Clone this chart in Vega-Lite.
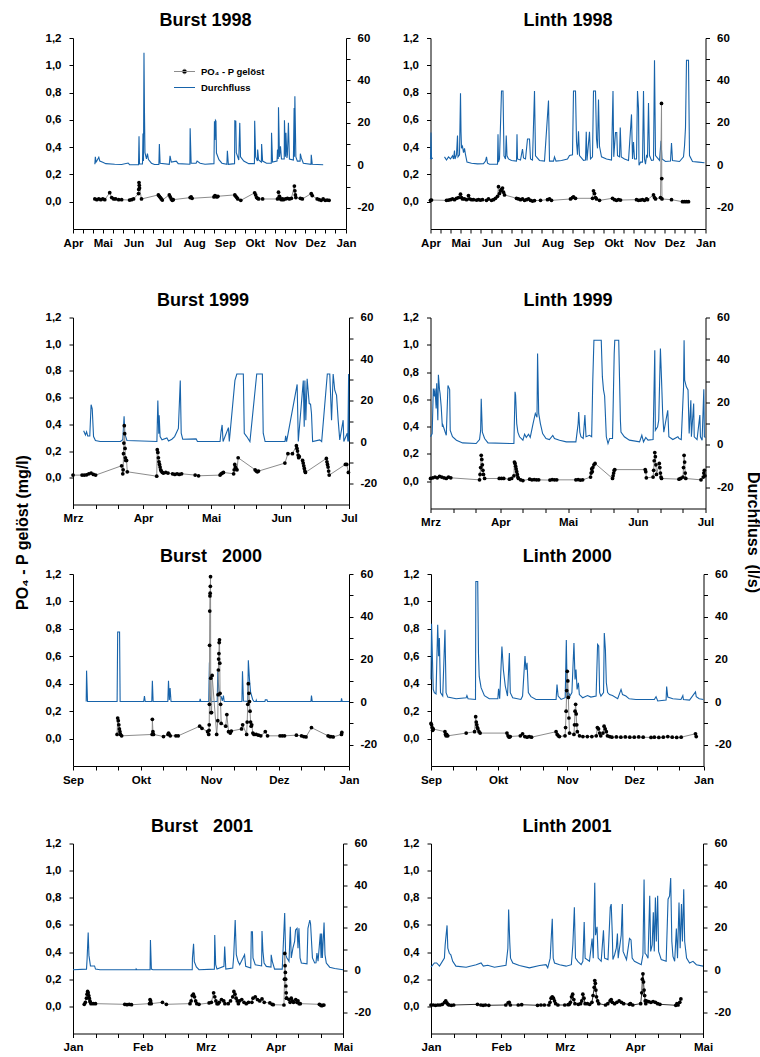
{
"$schema":"https://vega.github.io/schema/vega-lite/v6.json",
"padding":{"left":15,"top":12,"right":0,"bottom":0},
"config":{"font":"Liberation Sans","view":{"stroke":null},
"title":{"fontSize":18,"fontWeight":"bold","color":"#000","offset":2},
"axis":{"grid":false,"labelFontSize":11.5,"labelFontWeight":"bold","labelColor":"#000","domainColor":"#000","tickColor":"#000","tickSize":4,"domainWidth":1,"tickWidth":1}},
"datasets":{
"b98q":[{"d":"1998-04-23","q":0.5},{"d":"1998-04-23T12:00Z","q":4},{"d":"1998-04-24T06:00Z","q":1.5},{"d":"1998-04-25","q":2},{"d":"1998-04-27","q":3.8},{"d":"1998-04-28","q":2},{"d":"1998-05-01","q":1.4},{"d":"1998-05-04","q":0.8},{"d":"1998-05-13","q":0.5},{"d":"1998-05-20","q":0.4},{"d":"1998-05-26T12:00Z","q":1.1},{"d":"1998-05-28","q":0.3},{"d":"1998-06-06","q":0.3},{"d":"1998-06-06T12:00Z","q":13.7},{"d":"1998-06-07","q":0.6},{"d":"1998-06-10","q":0.6},{"d":"1998-06-10T12:00Z","q":15},{"d":"1998-06-11","q":2},{"d":"1998-06-11T12:00Z","q":53},{"d":"1998-06-12","q":25},{"d":"1998-06-12T12:00Z","q":6},{"d":"1998-06-14","q":3},{"d":"1998-06-15","q":5.5},{"d":"1998-06-16","q":2.7},{"d":"1998-06-19","q":1},{"d":"1998-06-22","q":0.4},{"d":"1998-06-26T12:00Z","q":0.4},{"d":"1998-06-27","q":10},{"d":"1998-06-27T18:00Z","q":1},{"d":"1998-07-07","q":0.5},{"d":"1998-07-07T18:00Z","q":4.5},{"d":"1998-07-09","q":1.5},{"d":"1998-07-14","q":2},{"d":"1998-07-16","q":0.8},{"d":"1998-07-27T18:00Z","q":0.5},{"d":"1998-07-28","q":17.5},{"d":"1998-07-29","q":1},{"d":"1998-08-03","q":1},{"d":"1998-08-04","q":2},{"d":"1998-08-07","q":1},{"d":"1998-08-12","q":0.5},{"d":"1998-08-21","q":0.8},{"d":"1998-08-21T12:00Z","q":20.8},{"d":"1998-08-22","q":12},{"d":"1998-08-22T12:00Z","q":21.2},{"d":"1998-08-23","q":20.8},{"d":"1998-08-23T12:00Z","q":5.8},{"d":"1998-08-26","q":2.7},{"d":"1998-08-29","q":1},{"d":"1998-09-03","q":0.5},{"d":"1998-09-03T12:00Z","q":6.9},{"d":"1998-09-04T12:00Z","q":0.5},{"d":"1998-09-10T18:00Z","q":0.8},{"d":"1998-09-11","q":21},{"d":"1998-09-12","q":20.8},{"d":"1998-09-12T12:00Z","q":6},{"d":"1998-09-15","q":2.5},{"d":"1998-09-16","q":20},{"d":"1998-09-16T18:00Z","q":4},{"d":"1998-09-20","q":2},{"d":"1998-09-25","q":0.8},{"d":"1998-09-30T18:00Z","q":0.8},{"d":"1998-10-01","q":21},{"d":"1998-10-02","q":4},{"d":"1998-10-03T18:00Z","q":2},{"d":"1998-10-04","q":7.4},{"d":"1998-10-05","q":2.5},{"d":"1998-10-07T18:00Z","q":1.5},{"d":"1998-10-08","q":10},{"d":"1998-10-09","q":2},{"d":"1998-10-13","q":1},{"d":"1998-10-17T18:00Z","q":1},{"d":"1998-10-18","q":15.3},{"d":"1998-10-19","q":1.5},{"d":"1998-10-23T12:00Z","q":2},{"d":"1998-10-24","q":7.4},{"d":"1998-10-24T18:00Z","q":3},{"d":"1998-10-25","q":27.4},{"d":"1998-10-26","q":4},{"d":"1998-10-27","q":9},{"d":"1998-10-28","q":3},{"d":"1998-10-30T18:00Z","q":3},{"d":"1998-10-31","q":21.2},{"d":"1998-11-01","q":4},{"d":"1998-11-01T12:00Z","q":15.3},{"d":"1998-11-02T12:00Z","q":3.5},{"d":"1998-11-03","q":5},{"d":"1998-11-04","q":20},{"d":"1998-11-05","q":3},{"d":"1998-11-09","q":2.5},{"d":"1998-11-09T18:00Z","q":27},{"d":"1998-11-10","q":4},{"d":"1998-11-10T12:00Z","q":32.5},{"d":"1998-11-11T12:00Z","q":4},{"d":"1998-11-13","q":2},{"d":"1998-11-15T18:00Z","q":2},{"d":"1998-11-16","q":5.5},{"d":"1998-11-17","q":3.5},{"d":"1998-11-19","q":1},{"d":"1998-11-26T18:00Z","q":0.5},{"d":"1998-11-27","q":5},{"d":"1998-11-28","q":0.5},{"d":"1998-12-09","q":0.3}],
"b98p":[{"d":"1998-04-23","p":0.02},{"d":"1998-04-25","p":0.015},{"d":"1998-04-27","p":0.02},{"d":"1998-04-29","p":0.015},{"d":"1998-05-01","p":0.02},{"d":"1998-05-03","p":0.015},{"d":"1998-05-08","p":0.066},{"d":"1998-05-10","p":0.03},{"d":"1998-05-12","p":0.02},{"d":"1998-05-14","p":0.02},{"d":"1998-05-17","p":0.015},{"d":"1998-05-20","p":0.015},{"d":"1998-05-28","p":0.012},{"d":"1998-05-30","p":0.015},{"d":"1998-06-01","p":0.02},{"d":"1998-06-06","p":0.06},{"d":"1998-06-06T06:00Z","p":0.09},{"d":"1998-06-06T12:00Z","p":0.14},{"d":"1998-06-06T18:00Z","p":0.12},{"d":"1998-06-07","p":0.1},{"d":"1998-06-09","p":0.02},{"d":"1998-06-26","p":0.05},{"d":"1998-06-27","p":0.04},{"d":"1998-06-28","p":0.03},{"d":"1998-06-29","p":0.02},{"d":"1998-06-30","p":0.012},{"d":"1998-07-07","p":0.05},{"d":"1998-07-08","p":0.035},{"d":"1998-07-09","p":0.02},{"d":"1998-07-10","p":0.01},{"d":"1998-07-11","p":0.015},{"d":"1998-07-28","p":0.03},{"d":"1998-07-29","p":0.035},{"d":"1998-07-30","p":0.025},{"d":"1998-08-21","p":0.035},{"d":"1998-08-22","p":0.045},{"d":"1998-08-23","p":0.04},{"d":"1998-08-24","p":0.035},{"d":"1998-08-25","p":0.04},{"d":"1998-09-11","p":0.05},{"d":"1998-09-12","p":0.04},{"d":"1998-09-13","p":0.03},{"d":"1998-09-14","p":0.02},{"d":"1998-09-17","p":0.01},{"d":"1998-10-01","p":0.065},{"d":"1998-10-02","p":0.05},{"d":"1998-10-03","p":0.03},{"d":"1998-10-04","p":0.025},{"d":"1998-10-05","p":0.02},{"d":"1998-10-09","p":0.02},{"d":"1998-10-24","p":0.02},{"d":"1998-10-25","p":0.07},{"d":"1998-10-26","p":0.04},{"d":"1998-10-27","p":0.02},{"d":"1998-10-28","p":0.015},{"d":"1998-10-29","p":0.02},{"d":"1998-10-30","p":0.015},{"d":"1998-11-01","p":0.02},{"d":"1998-11-03","p":0.025},{"d":"1998-11-05","p":0.02},{"d":"1998-11-07","p":0.025},{"d":"1998-11-10","p":0.115},{"d":"1998-11-10T12:00Z","p":0.08},{"d":"1998-11-11","p":0.05},{"d":"1998-11-11T12:00Z","p":0.03},{"d":"1998-11-16","p":0.025},{"d":"1998-11-18","p":0.02},{"d":"1998-11-27","p":0.06},{"d":"1998-11-28","p":0.045},{"d":"1998-12-03","p":0.02},{"d":"1998-12-05","p":0.015},{"d":"1998-12-07","p":0.01},{"d":"1998-12-09","p":0.02},{"d":"1998-12-11","p":0.01},{"d":"1998-12-13","p":0.012},{"d":"1998-12-15","p":0.01}],
"l98q":[{"d":"1998-04-01","q":3},{"d":"1998-04-01T12:00Z","q":15.5},{"d":"1998-04-02","q":3},{"d":"1998-04-03T08:00Z","q":3.5},{"d":"1998-04-04","q":null},{"d":"1998-04-15","q":4},{"d":"1998-04-17","q":2.5},{"d":"1998-04-19","q":4},{"d":"1998-04-21","q":3},{"d":"1998-04-23","q":4.5},{"d":"1998-04-24","q":3},{"d":"1998-04-25","q":7},{"d":"1998-04-25T12:00Z","q":3},{"d":"1998-04-27","q":5},{"d":"1998-04-28","q":14},{"d":"1998-04-28T12:00Z","q":4},{"d":"1998-04-30","q":5},{"d":"1998-05-01","q":34},{"d":"1998-05-01T12:00Z","q":16},{"d":"1998-05-02","q":8},{"d":"1998-05-03","q":9},{"d":"1998-05-04","q":6},{"d":"1998-05-05","q":8},{"d":"1998-05-06","q":5},{"d":"1998-05-07T12:00Z","q":1.5},{"d":"1998-05-12","q":1},{"d":"1998-05-18","q":0.7},{"d":"1998-05-24","q":0.8},{"d":"1998-05-26","q":2},{"d":"1998-05-27","q":4},{"d":"1998-05-28","q":1},{"d":"1998-05-30","q":0.5},{"d":"1998-06-07","q":0.5},{"d":"1998-06-07T12:00Z","q":14.7},{"d":"1998-06-08","q":1.5},{"d":"1998-06-09","q":3},{"d":"1998-06-11","q":35},{"d":"1998-06-12T12:00Z","q":35},{"d":"1998-06-13T12:00Z","q":4.5},{"d":"1998-06-15","q":3},{"d":"1998-06-15T18:00Z","q":14},{"d":"1998-06-16T12:00Z","q":4.5},{"d":"1998-06-18","q":3},{"d":"1998-06-21","q":2.3},{"d":"1998-06-26","q":2},{"d":"1998-06-26T12:00Z","q":14.7},{"d":"1998-06-27","q":3},{"d":"1998-06-30","q":2.5},{"d":"1998-07-02","q":7.7},{"d":"1998-07-03","q":3.5},{"d":"1998-07-05","q":3},{"d":"1998-07-07","q":12.4},{"d":"1998-07-09","q":12.4},{"d":"1998-07-10","q":3},{"d":"1998-07-12","q":2.5},{"d":"1998-07-14","q":35},{"d":"1998-07-15","q":4.5},{"d":"1998-07-19","q":2.3},{"d":"1998-07-24","q":2},{"d":"1998-07-28","q":30.5},{"d":"1998-07-29","q":2},{"d":"1998-08-02","q":2},{"d":"1998-08-03","q":4},{"d":"1998-08-04T12:00Z","q":2},{"d":"1998-08-10","q":2.3},{"d":"1998-08-16","q":3},{"d":"1998-08-18","q":4.6},{"d":"1998-08-21","q":5},{"d":"1998-08-22","q":35},{"d":"1998-08-24","q":35},{"d":"1998-08-25","q":11},{"d":"1998-08-26","q":5},{"d":"1998-08-27","q":16},{"d":"1998-08-28","q":4.6},{"d":"1998-09-01","q":2.3},{"d":"1998-09-03","q":2.5},{"d":"1998-09-03T18:00Z","q":15.8},{"d":"1998-09-04T12:00Z","q":2.3},{"d":"1998-09-07","q":15.8},{"d":"1998-09-08","q":3},{"d":"1998-09-10","q":4},{"d":"1998-09-11","q":35},{"d":"1998-09-13","q":35},{"d":"1998-09-14","q":12.4},{"d":"1998-09-15","q":8},{"d":"1998-09-16","q":31},{"d":"1998-09-17","q":9},{"d":"1998-09-19","q":4},{"d":"1998-09-24","q":3},{"d":"1998-09-29","q":2.5},{"d":"1998-09-30T12:00Z","q":35},{"d":"1998-10-01T06:00Z","q":4},{"d":"1998-10-03","q":15.5},{"d":"1998-10-04T06:00Z","q":15.5},{"d":"1998-10-05","q":4.5},{"d":"1998-10-07","q":4},{"d":"1998-10-07T18:00Z","q":17.8},{"d":"1998-10-08T18:00Z","q":4},{"d":"1998-10-12","q":3},{"d":"1998-10-16","q":2.3},{"d":"1998-10-19","q":24},{"d":"1998-10-20","q":3},{"d":"1998-10-21","q":11},{"d":"1998-10-22","q":3},{"d":"1998-10-24","q":3},{"d":"1998-10-25","q":35},{"d":"1998-10-26","q":27},{"d":"1998-10-26T12:00Z","q":0},{"d":"1998-10-28","q":1.5},{"d":"1998-10-30","q":1.5},{"d":"1998-10-31","q":35},{"d":"1998-11-01","q":3},{"d":"1998-11-02","q":0.5},{"d":"1998-11-03","q":4.6},{"d":"1998-11-04","q":4},{"d":"1998-11-05","q":29.4},{"d":"1998-11-06","q":4.6},{"d":"1998-11-08","q":2.3},{"d":"1998-11-10","q":2.5},{"d":"1998-11-11","q":49.5},{"d":"1998-11-12","q":4.6},{"d":"1998-11-16","q":2.3},{"d":"1998-11-17T12:00Z","q":11.6},{"d":"1998-11-18T12:00Z","q":3},{"d":"1998-11-22","q":1.8},{"d":"1998-11-27","q":2},{"d":"1998-11-28","q":10.5},{"d":"1998-11-29","q":2.3},{"d":"1998-12-06","q":1.8},{"d":"1998-12-10","q":4},{"d":"1998-12-11","q":9},{"d":"1998-12-12","q":17.8},{"d":"1998-12-13","q":49.5},{"d":"1998-12-15","q":49.5},{"d":"1998-12-16","q":4.6},{"d":"1998-12-19","q":1.8},{"d":"1998-12-25","q":1.5},{"d":"1998-12-31","q":1.2}],
"l98p":[{"d":"1998-04-01","p":0.01},{"d":"1998-04-02","p":0.012},{"d":"1998-04-17","p":0.01},{"d":"1998-04-19","p":0.012},{"d":"1998-04-21","p":0.015},{"d":"1998-04-23","p":0.02},{"d":"1998-04-25","p":0.015},{"d":"1998-04-27","p":0.025},{"d":"1998-04-29","p":0.03},{"d":"1998-05-01","p":0.055},{"d":"1998-05-02","p":0.03},{"d":"1998-05-03","p":0.02},{"d":"1998-05-05","p":0.02},{"d":"1998-05-07","p":0.015},{"d":"1998-05-09","p":0.045},{"d":"1998-05-10","p":0.02},{"d":"1998-05-12","p":0.015},{"d":"1998-05-14","p":0.015},{"d":"1998-05-17","p":0.012},{"d":"1998-05-19","p":0.015},{"d":"1998-05-21","p":0.012},{"d":"1998-05-23","p":0.015},{"d":"1998-05-27","p":0.01},{"d":"1998-05-29","p":0.02},{"d":"1998-06-01","p":0.01},{"d":"1998-06-03","p":0.015},{"d":"1998-06-05","p":0.025},{"d":"1998-06-07","p":0.04},{"d":"1998-06-08","p":0.11},{"d":"1998-06-09","p":0.06},{"d":"1998-06-10","p":0.08},{"d":"1998-06-11","p":0.09},{"d":"1998-06-12","p":0.1},{"d":"1998-06-13","p":0.07},{"d":"1998-06-14","p":0.05},{"d":"1998-06-26","p":0.025},{"d":"1998-06-28","p":0.02},{"d":"1998-06-30","p":0.015},{"d":"1998-07-02","p":0.02},{"d":"1998-07-04","p":0.01},{"d":"1998-07-06","p":0.015},{"d":"1998-07-08","p":0.02},{"d":"1998-07-10","p":0.01},{"d":"1998-07-12","p":0.005},{"d":"1998-07-14","p":0.008},{"d":"1998-07-20","p":0.01},{"d":"1998-07-27","p":0.015},{"d":"1998-07-29","p":0.02},{"d":"1998-07-31","p":0.01},{"d":"1998-08-19","p":0.02},{"d":"1998-08-21","p":0.03},{"d":"1998-08-22","p":0.035},{"d":"1998-08-24","p":0.025},{"d":"1998-09-10","p":0.025},{"d":"1998-09-11","p":0.08},{"d":"1998-09-12","p":0.06},{"d":"1998-09-13","p":0.03},{"d":"1998-09-14","p":0.02},{"d":"1998-09-17","p":0.01},{"d":"1998-09-30","p":0.025},{"d":"1998-10-02","p":0.015},{"d":"1998-10-04","p":0.01},{"d":"1998-10-06","p":0.015},{"d":"1998-10-08","p":0.012},{"d":"1998-10-24","p":0.015},{"d":"1998-10-26","p":0.01},{"d":"1998-10-28","p":0.012},{"d":"1998-10-30","p":0.015},{"d":"1998-11-01","p":0.01},{"d":"1998-11-03","p":0.02},{"d":"1998-11-04","p":0.015},{"d":"1998-11-10","p":0.05},{"d":"1998-11-11","p":0.03},{"d":"1998-11-12","p":0.02},{"d":"1998-11-17","p":0.03},{"d":"1998-11-18","p":0.72},{"d":"1998-11-18T06:00Z","p":0.17},{"d":"1998-11-18T12:00Z","p":0.02},{"d":"1998-11-28","p":0.015},{"d":"1998-12-09","p":0},{"d":"1998-12-11","p":0},{"d":"1998-12-13","p":0},{"d":"1998-12-15","p":0}],
"b99q":[{"d":"1999-03-05T17:00Z","q":5.5},{"d":"1999-03-06T12:00Z","q":3.5},{"d":"1999-03-07","q":5},{"d":"1999-03-07T12:00Z","q":3},{"d":"1999-03-08T10:00Z","q":3},{"d":"1999-03-09","q":18},{"d":"1999-03-09T12:00Z","q":16},{"d":"1999-03-10T02:00Z","q":2.7},{"d":"1999-03-10T22:00Z","q":0.8},{"d":"1999-03-13","q":0.3},{"d":"1999-03-22","q":0.3},{"d":"1999-03-23","q":1.2},{"d":"1999-03-23T14:00Z","q":12.5},{"d":"1999-03-23T22:00Z","q":4},{"d":"1999-03-24T20:00Z","q":0.8},{"d":"1999-04-07T02:00Z","q":0.3},{"d":"1999-04-07T12:00Z","q":20},{"d":"1999-04-07T22:00Z","q":4},{"d":"1999-04-08T02:00Z","q":13},{"d":"1999-04-08T12:00Z","q":2.7},{"d":"1999-04-09T08:00Z","q":1.1},{"d":"1999-04-11T12:00Z","q":2},{"d":"1999-04-12T06:00Z","q":0.6},{"d":"1999-04-13T17:00Z","q":1.4},{"d":"1999-04-14T22:00Z","q":2.7},{"d":"1999-04-15T22:00Z","q":5},{"d":"1999-04-16T14:00Z","q":6.6},{"d":"1999-04-17T10:00Z","q":29.7},{"d":"1999-04-17T20:00Z","q":4.3},{"d":"1999-04-18T12:00Z","q":1.4},{"d":"1999-04-24T10:00Z","q":1.6},{"d":"1999-04-25","q":0.3},{"d":"1999-05-05","q":0.3},{"d":"1999-05-05T10:00Z","q":4.8},{"d":"1999-05-05T22:00Z","q":8.3},{"d":"1999-05-06T08:00Z","q":0.3},{"d":"1999-05-08T17:00Z","q":7},{"d":"1999-05-09T02:00Z","q":0.3},{"d":"1999-05-11T14:00Z","q":29.7},{"d":"1999-05-12T10:00Z","q":32.8},{"d":"1999-05-15T07:00Z","q":32.8},{"d":"1999-05-15T17:00Z","q":4.3},{"d":"1999-05-16T19:00Z","q":2.7},{"d":"1999-05-18T05:00Z","q":0.3},{"d":"1999-05-21T05:00Z","q":32.8},{"d":"1999-05-23T17:00Z","q":32.8},{"d":"1999-05-24T02:00Z","q":4.3},{"d":"1999-05-24T22:00Z","q":0.3},{"d":"1999-06-02T17:00Z","q":0.3},{"d":"1999-06-03","q":3},{"d":"1999-06-03T10:00Z","q":0.3},{"d":"1999-06-08T02:00Z","q":27.8},{"d":"1999-06-08T14:00Z","q":0.3},{"d":"1999-06-10T19:00Z","q":29.7},{"d":"1999-06-11T05:00Z","q":7.4},{"d":"1999-06-11T12:00Z","q":29.7},{"d":"1999-06-11T22:00Z","q":10.6},{"d":"1999-06-12T12:00Z","q":30.5},{"d":"1999-06-13T10:00Z","q":18.6},{"d":"1999-06-14","q":18.3},{"d":"1999-06-14T10:00Z","q":13.8},{"d":"1999-06-14T22:00Z","q":0.3},{"d":"1999-06-18T02:00Z","q":1.1},{"d":"1999-06-18T22:00Z","q":0.3},{"d":"1999-06-21T10:00Z","q":32.8},{"d":"1999-06-22T12:00Z","q":32.8},{"d":"1999-06-23T07:00Z","q":10.6},{"d":"1999-06-24","q":32.8},{"d":"1999-06-24T17:00Z","q":25},{"d":"1999-06-25T12:00Z","q":22.5},{"d":"1999-06-26T05:00Z","q":10.6},{"d":"1999-06-26T22:00Z","q":1.1},{"d":"1999-06-28T10:00Z","q":10.6},{"d":"1999-06-28T17:00Z","q":0.3},{"d":"1999-06-30T05:00Z","q":4.3},{"d":"1999-06-30T12:00Z","q":0.3},{"d":"1999-06-30T20:00Z","q":32.8},{"d":"1999-07-01","q":0.3}],
"b99p":[{"d":"1999-03-01","p":0.02},{"d":"1999-03-05","p":0.02},{"d":"1999-03-06","p":0.02},{"d":"1999-03-07","p":0.022},{"d":"1999-03-08","p":0.03},{"d":"1999-03-09","p":0.035},{"d":"1999-03-10","p":0.025},{"d":"1999-03-11","p":0.02},{"d":"1999-03-22T12:00Z","p":0.09},{"d":"1999-03-23","p":0.03},{"d":"1999-03-23T04:00Z","p":0.06},{"d":"1999-03-23T08:00Z","p":0.18},{"d":"1999-03-23T12:00Z","p":0.26},{"d":"1999-03-23T16:00Z","p":0.39},{"d":"1999-03-23T20:00Z","p":0.33},{"d":"1999-03-24","p":0.22},{"d":"1999-03-24T04:00Z","p":0.15},{"d":"1999-03-24T08:00Z","p":0.13},{"d":"1999-03-24T16:00Z","p":0.13},{"d":"1999-03-25","p":0.045},{"d":"1999-04-07","p":0.012},{"d":"1999-04-07T06:00Z","p":0.21},{"d":"1999-04-07T12:00Z","p":0.19},{"d":"1999-04-07T18:00Z","p":0.15},{"d":"1999-04-08","p":0.12},{"d":"1999-04-08T06:00Z","p":0.1},{"d":"1999-04-08T12:00Z","p":0.08},{"d":"1999-04-08T18:00Z","p":0.06},{"d":"1999-04-09","p":0.05},{"d":"1999-04-09T12:00Z","p":0.04},{"d":"1999-04-10","p":0.035},{"d":"1999-04-11","p":0.04},{"d":"1999-04-12","p":0.035},{"d":"1999-04-14","p":0.03},{"d":"1999-04-15","p":0.025},{"d":"1999-04-16","p":0.03},{"d":"1999-04-17","p":0.025},{"d":"1999-04-18","p":0.03},{"d":"1999-04-24","p":0.02},{"d":"1999-04-25T12:00Z","p":0.015},{"d":"1999-05-05","p":0.02},{"d":"1999-05-05T12:00Z","p":0.03},{"d":"1999-05-06","p":0.035},{"d":"1999-05-06T12:00Z","p":0.04},{"d":"1999-05-11","p":0.03},{"d":"1999-05-11T06:00Z","p":0.06},{"d":"1999-05-11T12:00Z","p":0.1},{"d":"1999-05-11T18:00Z","p":0.08},{"d":"1999-05-12","p":0.07},{"d":"1999-05-12T12:00Z","p":0.06},{"d":"1999-05-13","p":0.15},{"d":"1999-05-20T12:00Z","p":0.06},{"d":"1999-05-21","p":0.05},{"d":"1999-05-21T12:00Z","p":0.045},{"d":"1999-05-22","p":0.05},{"d":"1999-06-02T16:00Z","p":0.11},{"d":"1999-06-04","p":0.18},{"d":"1999-06-06","p":0.18},{"d":"1999-06-07T18:00Z","p":0.24},{"d":"1999-06-08","p":0.22},{"d":"1999-06-08T06:00Z","p":0.2},{"d":"1999-06-08T12:00Z","p":0.17},{"d":"1999-06-08T18:00Z","p":0.15},{"d":"1999-06-09","p":0.16},{"d":"1999-06-10T12:00Z","p":0.13},{"d":"1999-06-10T18:00Z","p":0.11},{"d":"1999-06-11","p":0.09},{"d":"1999-06-11T06:00Z","p":0.07},{"d":"1999-06-11T12:00Z","p":0.05},{"d":"1999-06-11T18:00Z","p":0.04},{"d":"1999-06-21","p":0.145},{"d":"1999-06-21T06:00Z","p":0.12},{"d":"1999-06-21T12:00Z","p":0.1},{"d":"1999-06-21T18:00Z","p":0.08},{"d":"1999-06-22","p":0.05},{"d":"1999-06-22T06:00Z","p":0.02},{"d":"1999-06-29T10:00Z","p":0.1},{"d":"1999-06-30","p":0.1},{"d":"1999-06-30T18:00Z","p":0.04}],
"l99q":[{"d":"1999-03-01","q":3.8},{"d":"1999-03-01T18:00Z","q":5.3},{"d":"1999-03-02T06:00Z","q":26.5},{"d":"1999-03-02T18:00Z","q":22.8},{"d":"1999-03-03","q":26.5},{"d":"1999-03-03T12:00Z","q":17.1},{"d":"1999-03-03T18:00Z","q":29},{"d":"1999-03-04T06:00Z","q":11.6},{"d":"1999-03-04T12:00Z","q":33},{"d":"1999-03-05","q":26},{"d":"1999-03-05T06:00Z","q":24.2},{"d":"1999-03-05T18:00Z","q":18},{"d":"1999-03-06T06:00Z","q":8.5},{"d":"1999-03-06T12:00Z","q":9.3},{"d":"1999-03-07","q":7.7},{"d":"1999-03-07T12:00Z","q":6},{"d":"1999-03-08","q":4.5},{"d":"1999-03-08T18:00Z","q":28},{"d":"1999-03-09T12:00Z","q":26},{"d":"1999-03-09T18:00Z","q":6.8},{"d":"1999-03-10T18:00Z","q":3.8},{"d":"1999-03-12T12:00Z","q":2.2},{"d":"1999-03-15T06:00Z","q":0.9},{"d":"1999-03-21T06:00Z","q":0.6},{"d":"1999-03-22T18:00Z","q":2.5},{"d":"1999-03-23T06:00Z","q":6.8},{"d":"1999-03-23T12:00Z","q":21.7},{"d":"1999-03-24","q":6},{"d":"1999-03-25","q":3},{"d":"1999-03-26T12:00Z","q":0.9},{"d":"1999-04-06T12:00Z","q":0.6},{"d":"1999-04-07","q":0.6},{"d":"1999-04-07T12:00Z","q":25},{"d":"1999-04-07T18:00Z","q":23.4},{"d":"1999-04-08T06:00Z","q":10},{"d":"1999-04-08T18:00Z","q":6},{"d":"1999-04-09T12:00Z","q":3.8},{"d":"1999-04-11","q":2.2},{"d":"1999-04-11T18:00Z","q":5},{"d":"1999-04-12T12:00Z","q":3.5},{"d":"1999-04-13T12:00Z","q":5},{"d":"1999-04-14T06:00Z","q":3.5},{"d":"1999-04-15T12:00Z","q":10},{"d":"1999-04-16T12:00Z","q":14.8},{"d":"1999-04-17T06:00Z","q":13},{"d":"1999-04-17T12:00Z","q":43},{"d":"1999-04-18","q":14.8},{"d":"1999-04-18T18:00Z","q":10},{"d":"1999-04-19T18:00Z","q":5.3},{"d":"1999-04-21T06:00Z","q":3},{"d":"1999-04-22T18:00Z","q":2.5},{"d":"1999-04-24T06:00Z","q":4.4},{"d":"1999-04-25","q":3},{"d":"1999-04-27T06:00Z","q":2.2},{"d":"1999-04-30T06:00Z","q":1.4},{"d":"1999-05-04T12:00Z","q":1.4},{"d":"1999-05-05T12:00Z","q":10},{"d":"1999-05-05T18:00Z","q":15.5},{"d":"1999-05-06T06:00Z","q":6},{"d":"1999-05-06T18:00Z","q":3.8},{"d":"1999-05-07T18:00Z","q":3},{"d":"1999-05-08T12:00Z","q":14},{"d":"1999-05-09","q":3.8},{"d":"1999-05-10T12:00Z","q":4.5},{"d":"1999-05-11T12:00Z","q":3.8},{"d":"1999-05-12","q":30.5},{"d":"1999-05-12T12:00Z","q":49.3},{"d":"1999-05-15T18:00Z","q":49.3},{"d":"1999-05-16T06:00Z","q":32},{"d":"1999-05-16T18:00Z","q":25.9},{"d":"1999-05-17T06:00Z","q":23},{"d":"1999-05-18","q":3.8},{"d":"1999-05-18T18:00Z","q":0.6},{"d":"1999-05-19T12:00Z","q":3},{"d":"1999-05-20T18:00Z","q":3},{"d":"1999-05-21T12:00Z","q":43},{"d":"1999-05-21T18:00Z","q":49.3},{"d":"1999-05-23T12:00Z","q":49.3},{"d":"1999-05-24T06:00Z","q":11.6},{"d":"1999-05-24T12:00Z","q":6},{"d":"1999-05-26","q":3.8},{"d":"1999-05-28T06:00Z","q":2.2},{"d":"1999-06-01T18:00Z","q":1.4},{"d":"1999-06-02T18:00Z","q":4.5},{"d":"1999-06-03T12:00Z","q":1.4},{"d":"1999-06-04T12:00Z","q":3.5},{"d":"1999-06-05T12:00Z","q":2.2},{"d":"1999-06-07T18:00Z","q":2.5},{"d":"1999-06-08T12:00Z","q":44.6},{"d":"1999-06-08T18:00Z","q":6.8},{"d":"1999-06-09T18:00Z","q":8.5},{"d":"1999-06-10T06:00Z","q":11.6},{"d":"1999-06-11","q":45.4},{"d":"1999-06-11T12:00Z","q":30.5},{"d":"1999-06-12","q":14.8},{"d":"1999-06-12T12:00Z","q":6},{"d":"1999-06-14T06:00Z","q":16.3},{"d":"1999-06-14T18:00Z","q":3.8},{"d":"1999-06-16T12:00Z","q":2.5},{"d":"1999-06-18T18:00Z","q":3.8},{"d":"1999-06-19T06:00Z","q":3},{"d":"1999-06-20T06:00Z","q":2.5},{"d":"1999-06-21T06:00Z","q":27},{"d":"1999-06-21T12:00Z","q":49.3},{"d":"1999-06-21T18:00Z","q":30.5},{"d":"1999-06-22T12:00Z","q":27.3},{"d":"1999-06-23T06:00Z","q":25.9},{"d":"1999-06-23T18:00Z","q":5.3},{"d":"1999-06-24T12:00Z","q":21},{"d":"1999-06-24T18:00Z","q":3.8},{"d":"1999-06-25T18:00Z","q":19.5},{"d":"1999-06-26","q":3.8},{"d":"1999-06-27T06:00Z","q":2.5},{"d":"1999-06-28T12:00Z","q":14},{"d":"1999-06-28T18:00Z","q":3.8},{"d":"1999-06-29T12:00Z","q":2.2},{"d":"1999-06-30T06:00Z","q":26.2},{"d":"1999-06-30T12:00Z","q":3.8},{"d":"1999-07-01","q":3.5}],
"l99p":[{"d":"1999-03-01","p":0.02},{"d":"1999-03-02","p":0.025},{"d":"1999-03-03","p":0.03},{"d":"1999-03-04","p":0.025},{"d":"1999-03-05","p":0.035},{"d":"1999-03-06","p":0.03},{"d":"1999-03-07","p":0.025},{"d":"1999-03-08","p":0.02},{"d":"1999-03-09","p":0.03},{"d":"1999-03-10","p":0.025},{"d":"1999-03-22T18:00Z","p":0.01},{"d":"1999-03-23","p":0.05},{"d":"1999-03-23T06:00Z","p":0.1},{"d":"1999-03-23T12:00Z","p":0.19},{"d":"1999-03-23T18:00Z","p":0.16},{"d":"1999-03-24","p":0.12},{"d":"1999-03-24T06:00Z","p":0.08},{"d":"1999-03-24T12:00Z","p":0.05},{"d":"1999-03-25","p":0.02},{"d":"1999-03-31T12:00Z","p":0.02},{"d":"1999-04-01T12:00Z","p":0.02},{"d":"1999-04-02T12:00Z","p":0.02},{"d":"1999-04-05","p":0.015},{"d":"1999-04-06","p":0.02},{"d":"1999-04-07","p":0.04},{"d":"1999-04-07T06:00Z","p":0.14},{"d":"1999-04-07T12:00Z","p":0.13},{"d":"1999-04-07T18:00Z","p":0.11},{"d":"1999-04-08","p":0.09},{"d":"1999-04-08T06:00Z","p":0.07},{"d":"1999-04-08T12:00Z","p":0.05},{"d":"1999-04-08T18:00Z","p":0.03},{"d":"1999-04-09","p":0.02},{"d":"1999-04-10","p":0.01},{"d":"1999-04-11","p":0.005},{"d":"1999-04-14","p":0.015},{"d":"1999-04-15","p":0.01},{"d":"1999-04-16","p":0.012},{"d":"1999-04-17","p":0.01},{"d":"1999-04-18","p":0.01},{"d":"1999-04-23","p":0.008},{"d":"1999-04-24","p":0.012},{"d":"1999-04-25","p":0.01},{"d":"1999-04-26","p":0.01},{"d":"1999-05-04T12:00Z","p":0.01},{"d":"1999-05-05T12:00Z","p":0.012},{"d":"1999-05-06T12:00Z","p":0.008},{"d":"1999-05-07T12:00Z","p":0.01},{"d":"1999-05-11","p":0.03},{"d":"1999-05-11T06:00Z","p":0.06},{"d":"1999-05-11T12:00Z","p":0.09},{"d":"1999-05-11T18:00Z","p":0.07},{"d":"1999-05-12","p":0.1},{"d":"1999-05-12T12:00Z","p":0.12},{"d":"1999-05-13","p":0.13},{"d":"1999-05-20T18:00Z","p":0.02},{"d":"1999-05-21","p":0.04},{"d":"1999-05-21T06:00Z","p":0.06},{"d":"1999-05-21T12:00Z","p":0.08},{"d":"1999-05-21T18:00Z","p":0.085},{"d":"1999-06-04T06:00Z","p":0.085},{"d":"1999-06-04T12:00Z","p":0.07},{"d":"1999-06-04T18:00Z","p":0.025},{"d":"1999-06-07T18:00Z","p":0.03},{"d":"1999-06-08","p":0.08},{"d":"1999-06-08T06:00Z","p":0.15},{"d":"1999-06-08T12:00Z","p":0.21},{"d":"1999-06-08T18:00Z","p":0.18},{"d":"1999-06-09","p":0.12},{"d":"1999-06-09T06:00Z","p":0.05},{"d":"1999-06-10T12:00Z","p":0.13},{"d":"1999-06-10T18:00Z","p":0.1},{"d":"1999-06-11","p":0.06},{"d":"1999-06-11T06:00Z","p":0.03},{"d":"1999-06-11T12:00Z","p":0.02},{"d":"1999-06-19T06:00Z","p":0.015},{"d":"1999-06-20","p":0.02},{"d":"1999-06-21","p":0.03},{"d":"1999-06-21T06:00Z","p":0.1},{"d":"1999-06-21T12:00Z","p":0.19},{"d":"1999-06-21T18:00Z","p":0.14},{"d":"1999-06-22","p":0.06},{"d":"1999-06-22T06:00Z","p":0.02},{"d":"1999-06-29","p":0.01},{"d":"1999-06-30","p":0.03},{"d":"1999-06-30T06:00Z","p":0.06},{"d":"1999-06-30T12:00Z","p":0.08},{"d":"1999-06-30T18:00Z","p":0.04}],
"b00q":[{"d":"2000-09-06T20:00Z","q":0.2},{"d":"2000-09-07","q":14.7},{"d":"2000-09-07T10:00Z","q":0.2},{"d":"2000-09-20T12:00Z","q":0.2},{"d":"2000-09-20T18:00Z","q":32.8},{"d":"2000-09-21T14:00Z","q":32.8},{"d":"2000-09-21T20:00Z","q":0.2},{"d":"2000-10-02T06:00Z","q":0.2},{"d":"2000-10-02T14:00Z","q":2.8},{"d":"2000-10-02T22:00Z","q":0.2},{"d":"2000-10-05T20:00Z","q":0.2},{"d":"2000-10-06T02:00Z","q":10},{"d":"2000-10-06T10:00Z","q":0.2},{"d":"2000-10-12T22:00Z","q":0.2},{"d":"2000-10-13T05:00Z","q":10},{"d":"2000-10-13T14:00Z","q":1},{"d":"2000-10-13T22:00Z","q":6.5},{"d":"2000-10-14T08:00Z","q":0.2},{"d":"2000-10-27","q":0.2},{"d":"2000-10-27T05:00Z","q":1.5},{"d":"2000-10-27T12:00Z","q":0.2},{"d":"2000-10-31","q":0.2},{"d":"2000-10-31T07:00Z","q":18.5},{"d":"2000-10-31T14:00Z","q":3},{"d":"2000-10-31T22:00Z","q":0.2},{"d":"2000-11-03T18:00Z","q":0.2},{"d":"2000-11-04","q":14},{"d":"2000-11-04T06:00Z","q":9},{"d":"2000-11-04T18:00Z","q":3},{"d":"2000-11-05T12:00Z","q":2.5},{"d":"2000-11-06","q":0.5},{"d":"2000-11-06T12:00Z","q":3},{"d":"2000-11-06T20:00Z","q":0.2},{"d":"2000-11-14T16:00Z","q":0.2},{"d":"2000-11-14T22:00Z","q":14.4},{"d":"2000-11-15T08:00Z","q":0.5},{"d":"2000-11-17T06:00Z","q":0.3},{"d":"2000-11-17T12:00Z","q":19.6},{"d":"2000-11-18","q":10.8},{"d":"2000-11-18T12:00Z","q":4.6},{"d":"2000-11-19T10:00Z","q":1.2},{"d":"2000-11-20","q":0.2},{"d":"2000-11-20T20:00Z","q":0.2},{"d":"2000-11-21","q":0.8},{"d":"2000-11-21T04:00Z","q":0.2},{"d":"2000-11-24T20:00Z","q":0.2},{"d":"2000-11-25","q":1},{"d":"2000-11-25T18:00Z","q":1},{"d":"2000-11-26","q":0.2},{"d":"2000-12-15T04:00Z","q":0.2},{"d":"2000-12-15T10:00Z","q":3},{"d":"2000-12-15T18:00Z","q":0.2},{"d":"2000-12-28T12:00Z","q":0.2},{"d":"2000-12-28T17:00Z","q":1.7},{"d":"2000-12-29","q":0.2},{"d":"2001-01-01","q":0.2}],
"b00p":[{"d":"2000-09-20T12:00Z","p":0.03},{"d":"2000-09-20T18:00Z","p":0.15},{"d":"2000-09-21","p":0.13},{"d":"2000-09-21T06:00Z","p":0.1},{"d":"2000-09-21T12:00Z","p":0.07},{"d":"2000-09-21T18:00Z","p":0.05},{"d":"2000-09-22","p":0.03},{"d":"2000-09-22T12:00Z","p":0.02},{"d":"2000-10-06","p":0.03},{"d":"2000-10-06T02:00Z","p":0.14},{"d":"2000-10-06T08:00Z","p":0.05},{"d":"2000-10-06T14:00Z","p":0.03},{"d":"2000-10-11","p":0.015},{"d":"2000-10-13","p":0.03},{"d":"2000-10-13T06:00Z","p":0.04},{"d":"2000-10-13T12:00Z","p":0.03},{"d":"2000-10-14","p":0.02},{"d":"2000-10-16T12:00Z","p":0.02},{"d":"2000-10-17T12:00Z","p":0.02},{"d":"2000-10-27","p":0.09},{"d":"2000-10-28","p":0.075},{"d":"2000-10-30T12:00Z","p":0.05},{"d":"2000-10-31","p":0.03},{"d":"2000-10-31T03:00Z","p":0.06},{"d":"2000-10-31T05:00Z","p":0.1},{"d":"2000-10-31T07:00Z","p":0.25},{"d":"2000-10-31T09:00Z","p":0.68},{"d":"2000-10-31T11:00Z","p":0.93},{"d":"2000-10-31T13:00Z","p":1.04},{"d":"2000-10-31T15:00Z","p":1.06},{"d":"2000-10-31T17:00Z","p":1.11},{"d":"2000-10-31T19:00Z","p":1.18},{"d":"2000-10-31T21:00Z","p":0.44},{"d":"2000-11-01","p":0.19},{"d":"2000-11-01T06:00Z","p":0.19},{"d":"2000-11-01T12:00Z","p":0.46},{"d":"2000-11-03T12:00Z","p":0.03},{"d":"2000-11-04","p":0.13},{"d":"2000-11-04T03:00Z","p":0.32},{"d":"2000-11-04T06:00Z","p":0.5},{"d":"2000-11-04T09:00Z","p":0.58},{"d":"2000-11-04T12:00Z","p":0.62},{"d":"2000-11-04T15:00Z","p":0.7},{"d":"2000-11-04T18:00Z","p":0.72},{"d":"2000-11-04T21:00Z","p":0.55},{"d":"2000-11-05","p":0.33},{"d":"2000-11-05T06:00Z","p":0.25},{"d":"2000-11-05T12:00Z","p":0.11},{"d":"2000-11-07T12:00Z","p":0.09},{"d":"2000-11-08","p":0.175},{"d":"2000-11-08T18:00Z","p":0.05},{"d":"2000-11-09T12:00Z","p":0.04},{"d":"2000-11-10","p":0.055},{"d":"2000-11-14T12:00Z","p":0.07},{"d":"2000-11-15","p":0.1},{"d":"2000-11-16T18:00Z","p":0.03},{"d":"2000-11-17","p":0.12},{"d":"2000-11-17T06:00Z","p":0.25},{"d":"2000-11-17T12:00Z","p":0.4},{"d":"2000-11-17T18:00Z","p":0.33},{"d":"2000-11-18","p":0.27},{"d":"2000-11-18T06:00Z","p":0.2},{"d":"2000-11-18T12:00Z","p":0.12},{"d":"2000-11-18T18:00Z","p":0.09},{"d":"2000-11-19","p":0.1},{"d":"2000-11-19T12:00Z","p":0.04},{"d":"2000-11-20","p":0.03},{"d":"2000-11-21","p":0.03},{"d":"2000-11-22","p":0.025},{"d":"2000-11-23","p":0.02},{"d":"2000-11-25","p":0.05},{"d":"2000-11-26","p":0.02},{"d":"2000-12-01T12:00Z","p":0.02},{"d":"2000-12-02T12:00Z","p":0.02},{"d":"2000-12-03T12:00Z","p":0.02},{"d":"2000-12-08T18:00Z","p":0.025},{"d":"2000-12-11","p":0.02},{"d":"2000-12-12","p":0.015},{"d":"2000-12-13","p":0.012},{"d":"2000-12-15T10:00Z","p":0.08},{"d":"2000-12-22T18:00Z","p":0.02},{"d":"2000-12-23T12:00Z","p":0.015},{"d":"2000-12-24","p":0.015},{"d":"2000-12-25","p":0.012},{"d":"2000-12-28T16:00Z","p":0.03},{"d":"2000-12-28T20:00Z","p":0.045}],
"l00q":[{"d":"2000-09-01","q":10.6},{"d":"2000-09-01T06:00Z","q":36.7},{"d":"2000-09-02","q":5.9},{"d":"2000-09-02T12:00Z","q":4.4},{"d":"2000-09-03T06:00Z","q":3.8},{"d":"2000-09-04","q":36.2},{"d":"2000-09-04T10:00Z","q":21.5},{"d":"2000-09-04T18:00Z","q":30},{"d":"2000-09-05T06:00Z","q":4.4},{"d":"2000-09-06T06:00Z","q":2.8},{"d":"2000-09-07T06:00Z","q":33.9},{"d":"2000-09-07T18:00Z","q":4.4},{"d":"2000-09-08T12:00Z","q":2.3},{"d":"2000-09-12T06:00Z","q":1.5},{"d":"2000-09-16T18:00Z","q":2},{"d":"2000-09-17T02:00Z","q":3},{"d":"2000-09-17T14:00Z","q":1.5},{"d":"2000-09-20T22:00Z","q":1.2},{"d":"2000-09-21T02:00Z","q":56.5},{"d":"2000-09-21T22:00Z","q":56.5},{"d":"2000-09-22T06:00Z","q":23},{"d":"2000-09-22T14:00Z","q":12},{"d":"2000-09-23T10:00Z","q":6.7},{"d":"2000-09-24T22:00Z","q":3},{"d":"2000-09-27T02:00Z","q":1.5},{"d":"2000-09-30T22:00Z","q":1.5},{"d":"2000-10-01T06:00Z","q":6.2},{"d":"2000-10-01T18:00Z","q":1.5},{"d":"2000-10-02T18:00Z","q":26},{"d":"2000-10-03T10:00Z","q":15},{"d":"2000-10-04T06:00Z","q":7.5},{"d":"2000-10-05T06:00Z","q":2.8},{"d":"2000-10-06T02:00Z","q":23},{"d":"2000-10-06T12:00Z","q":4.4},{"d":"2000-10-07T14:00Z","q":2},{"d":"2000-10-11T06:00Z","q":1.2},{"d":"2000-10-12","q":2.8},{"d":"2000-10-13T02:00Z","q":21.5},{"d":"2000-10-13T12:00Z","q":15},{"d":"2000-10-14","q":18.4},{"d":"2000-10-14T14:00Z","q":4.4},{"d":"2000-10-15T18:00Z","q":2.5},{"d":"2000-10-18","q":1.2},{"d":"2000-10-27","q":1.2},{"d":"2000-10-27T10:00Z","q":8.2},{"d":"2000-10-27T22:00Z","q":2.8},{"d":"2000-10-29T06:00Z","q":1.2},{"d":"2000-10-31T02:00Z","q":2},{"d":"2000-10-31T14:00Z","q":29},{"d":"2000-11-01","q":2.8},{"d":"2000-11-01T14:00Z","q":4.4},{"d":"2000-11-02T06:00Z","q":2.8},{"d":"2000-11-03T02:00Z","q":4.4},{"d":"2000-11-04","q":27.7},{"d":"2000-11-04T12:00Z","q":10.6},{"d":"2000-11-04T22:00Z","q":15.2},{"d":"2000-11-05T10:00Z","q":5.9},{"d":"2000-11-06","q":9},{"d":"2000-11-06T10:00Z","q":3.5},{"d":"2000-11-07T22:00Z","q":2},{"d":"2000-11-10T02:00Z","q":3},{"d":"2000-11-11T14:00Z","q":2.3},{"d":"2000-11-13T22:00Z","q":2.8},{"d":"2000-11-14T14:00Z","q":27},{"d":"2000-11-15T02:00Z","q":26.3},{"d":"2000-11-15T12:00Z","q":4.4},{"d":"2000-11-16T02:00Z","q":2.8},{"d":"2000-11-17T06:00Z","q":4.4},{"d":"2000-11-17T14:00Z","q":32.3},{"d":"2000-11-18T02:00Z","q":24.6},{"d":"2000-11-18T12:00Z","q":9},{"d":"2000-11-19T02:00Z","q":4.4},{"d":"2000-11-19T22:00Z","q":3.5},{"d":"2000-11-21T06:00Z","q":3},{"d":"2000-11-23T14:00Z","q":1.5},{"d":"2000-11-25T02:00Z","q":5.9},{"d":"2000-11-25T18:00Z","q":3.5},{"d":"2000-11-27T06:00Z","q":2.8},{"d":"2000-11-28T18:00Z","q":1.5},{"d":"2000-12-01T18:00Z","q":1.2},{"d":"2000-12-06T06:00Z","q":1.2},{"d":"2000-12-10","q":1.2},{"d":"2000-12-10T18:00Z","q":2.5},{"d":"2000-12-11T12:00Z","q":0.5},{"d":"2000-12-15T06:00Z","q":0.9},{"d":"2000-12-15T12:00Z","q":7.2},{"d":"2000-12-16","q":2.3},{"d":"2000-12-18T06:00Z","q":1.5},{"d":"2000-12-21T22:00Z","q":1.2},{"d":"2000-12-22T18:00Z","q":3},{"d":"2000-12-23","q":1.2},{"d":"2000-12-25T18:00Z","q":0.9},{"d":"2000-12-28T10:00Z","q":4.7},{"d":"2000-12-28T18:00Z","q":2.5},{"d":"2000-12-30T02:00Z","q":1.5},{"d":"2000-12-31T23:00Z","q":1.2}],
"l00p":[{"d":"2000-09-01","p":0.11},{"d":"2000-09-01T06:00Z","p":0.1},{"d":"2000-09-01T12:00Z","p":0.08},{"d":"2000-09-01T18:00Z","p":0.06},{"d":"2000-09-02","p":0.07},{"d":"2000-09-07T06:00Z","p":0.05},{"d":"2000-09-07T12:00Z","p":0.03},{"d":"2000-09-07T18:00Z","p":0.02},{"d":"2000-09-08","p":0.03},{"d":"2000-09-08T12:00Z","p":0.02},{"d":"2000-09-16T18:00Z","p":0.04},{"d":"2000-09-20T12:00Z","p":0.05},{"d":"2000-09-21","p":0.16},{"d":"2000-09-21T06:00Z","p":0.12},{"d":"2000-09-21T12:00Z","p":0.1},{"d":"2000-09-21T18:00Z","p":0.08},{"d":"2000-09-22","p":0.07},{"d":"2000-09-22T12:00Z","p":0.05},{"d":"2000-09-23","p":0.04},{"d":"2000-10-05","p":0.04},{"d":"2000-10-05T12:00Z","p":0.02},{"d":"2000-10-06","p":0.01},{"d":"2000-10-06T12:00Z","p":0.015},{"d":"2000-10-11","p":0.02},{"d":"2000-10-12","p":0.035},{"d":"2000-10-13","p":0.015},{"d":"2000-10-14","p":0.01},{"d":"2000-10-15","p":0.015},{"d":"2000-10-16","p":0.01},{"d":"2000-10-27","p":0.05},{"d":"2000-10-27T12:00Z","p":0.03},{"d":"2000-10-28","p":0.02},{"d":"2000-10-28T12:00Z","p":0.015},{"d":"2000-10-31","p":0.02},{"d":"2000-10-31T06:00Z","p":0.08},{"d":"2000-10-31T12:00Z","p":0.2},{"d":"2000-10-31T18:00Z","p":0.35},{"d":"2000-11-01","p":0.49},{"d":"2000-11-01T06:00Z","p":0.42},{"d":"2000-11-01T12:00Z","p":0.3},{"d":"2000-11-01T18:00Z","p":0.15},{"d":"2000-11-02","p":0.04},{"d":"2000-11-04","p":0.03},{"d":"2000-11-04T06:00Z","p":0.1},{"d":"2000-11-04T12:00Z","p":0.2},{"d":"2000-11-04T18:00Z","p":0.25},{"d":"2000-11-05","p":0.18},{"d":"2000-11-05T06:00Z","p":0.1},{"d":"2000-11-05T12:00Z","p":0.05},{"d":"2000-11-06T12:00Z","p":0.02},{"d":"2000-11-08","p":0.015},{"d":"2000-11-10","p":0.015},{"d":"2000-11-12","p":0.015},{"d":"2000-11-14","p":0.02},{"d":"2000-11-14T12:00Z","p":0.08},{"d":"2000-11-15","p":0.07},{"d":"2000-11-15T12:00Z","p":0.04},{"d":"2000-11-16","p":0.02},{"d":"2000-11-17","p":0.04},{"d":"2000-11-17T12:00Z","p":0.09},{"d":"2000-11-18","p":0.07},{"d":"2000-11-18T12:00Z","p":0.05},{"d":"2000-11-19","p":0.02},{"d":"2000-11-20","p":0.015},{"d":"2000-11-21","p":0.01},{"d":"2000-11-23","p":0.012},{"d":"2000-11-25","p":0.01},{"d":"2000-11-27","p":0.012},{"d":"2000-11-29","p":0.01},{"d":"2000-12-01","p":0.01},{"d":"2000-12-03","p":0.012},{"d":"2000-12-05","p":0.01},{"d":"2000-12-08T12:00Z","p":0.008},{"d":"2000-12-10","p":0.01},{"d":"2000-12-12","p":0.008},{"d":"2000-12-14","p":0.01},{"d":"2000-12-16","p":0.015},{"d":"2000-12-18","p":0.01},{"d":"2000-12-20","p":0.008},{"d":"2000-12-22","p":0.01},{"d":"2000-12-28T10:00Z","p":0.035},{"d":"2000-12-28T18:00Z","p":0.015}],
"b01q":[{"d":"2001-01-01","q":0.2},{"d":"2001-01-07","q":0.5},{"d":"2001-01-07T06:00Z","q":5},{"d":"2001-01-07T18:00Z","q":17.8},{"d":"2001-01-08T02:00Z","q":7},{"d":"2001-01-08T18:00Z","q":2},{"d":"2001-01-10T14:00Z","q":2},{"d":"2001-01-11","q":0.5},{"d":"2001-01-13","q":0.2},{"d":"2001-01-29","q":0.2},{"d":"2001-01-29T02:00Z","q":0.6},{"d":"2001-01-29T10:00Z","q":0.2},{"d":"2001-02-04T06:00Z","q":0.2},{"d":"2001-02-04T10:00Z","q":14.3},{"d":"2001-02-04T20:00Z","q":0.5},{"d":"2001-02-05T12:00Z","q":0.2},{"d":"2001-02-23","q":0.2},{"d":"2001-02-23T02:00Z","q":5.8},{"d":"2001-02-23T14:00Z","q":12.5},{"d":"2001-02-23T22:00Z","q":4},{"d":"2001-02-24T20:00Z","q":1.5},{"d":"2001-02-26","q":0.2},{"d":"2001-03-04T20:00Z","q":0.5},{"d":"2001-03-05","q":16.7},{"d":"2001-03-05T10:00Z","q":2.6},{"d":"2001-03-06","q":0.5},{"d":"2001-03-09T02:00Z","q":1.8},{"d":"2001-03-09T10:00Z","q":11.2},{"d":"2001-03-09T22:00Z","q":0.5},{"d":"2001-03-13","q":1},{"d":"2001-03-13T10:00Z","q":6.5},{"d":"2001-03-14T02:00Z","q":23.7},{"d":"2001-03-14T14:00Z","q":7.3},{"d":"2001-03-15T08:00Z","q":4.2},{"d":"2001-03-16T02:00Z","q":2.6},{"d":"2001-03-18T06:00Z","q":7.3},{"d":"2001-03-18T18:00Z","q":1.8},{"d":"2001-03-21","q":1},{"d":"2001-03-21T06:00Z","q":18.2},{"d":"2001-03-21T18:00Z","q":18.2},{"d":"2001-03-22","q":5.8},{"d":"2001-03-23","q":2.6},{"d":"2001-03-25T20:00Z","q":2},{"d":"2001-03-26","q":18.5},{"d":"2001-03-26T10:00Z","q":8.9},{"d":"2001-03-26T22:00Z","q":3.4},{"d":"2001-03-27T22:00Z","q":1.8},{"d":"2001-03-30","q":1.5},{"d":"2001-03-30T02:00Z","q":7.3},{"d":"2001-03-30T14:00Z","q":4.2},{"d":"2001-03-31T14:00Z","q":0.5},{"d":"2001-04-04","q":0.5},{"d":"2001-04-05T02:00Z","q":27.1},{"d":"2001-04-05T12:00Z","q":7.3},{"d":"2001-04-06T02:00Z","q":5.8},{"d":"2001-04-07","q":4.2},{"d":"2001-04-07T14:00Z","q":20.6},{"d":"2001-04-08","q":5.8},{"d":"2001-04-08T18:00Z","q":10.4},{"d":"2001-04-09T12:00Z","q":13.6},{"d":"2001-04-09T22:00Z","q":19},{"d":"2001-04-10T14:00Z","q":19.8},{"d":"2001-04-11","q":10.4},{"d":"2001-04-11T10:00Z","q":19.8},{"d":"2001-04-11T22:00Z","q":5.8},{"d":"2001-04-12T12:00Z","q":3.4},{"d":"2001-04-15","q":3},{"d":"2001-04-15T10:00Z","q":19.8},{"d":"2001-04-16T06:00Z","q":23.7},{"d":"2001-04-16T14:00Z","q":22},{"d":"2001-04-17T10:00Z","q":5.8},{"d":"2001-04-18T10:00Z","q":3.4},{"d":"2001-04-19","q":3.5},{"d":"2001-04-19T10:00Z","q":8.1},{"d":"2001-04-19T22:00Z","q":4.2},{"d":"2001-04-20T22:00Z","q":17.4},{"d":"2001-04-21T06:00Z","q":5.8},{"d":"2001-04-21T12:00Z","q":17.4},{"d":"2001-04-21T20:00Z","q":5.8},{"d":"2001-04-22T14:00Z","q":22.6},{"d":"2001-04-23","q":7.3},{"d":"2001-04-23T14:00Z","q":3.4},{"d":"2001-04-25T02:00Z","q":1.4},{"d":"2001-04-27T08:00Z","q":0.8},{"d":"2001-05-01","q":0.2}],
"b01p":[{"d":"2001-01-06","p":0.015},{"d":"2001-01-06T12:00Z","p":0.03},{"d":"2001-01-07","p":0.06},{"d":"2001-01-07T06:00Z","p":0.09},{"d":"2001-01-07T12:00Z","p":0.11},{"d":"2001-01-07T18:00Z","p":0.1},{"d":"2001-01-08","p":0.08},{"d":"2001-01-08T06:00Z","p":0.06},{"d":"2001-01-08T12:00Z","p":0.04},{"d":"2001-01-08T18:00Z","p":0.03},{"d":"2001-01-09","p":0.02},{"d":"2001-01-10","p":0.02},{"d":"2001-01-11","p":0.02},{"d":"2001-01-24","p":0.015},{"d":"2001-01-25","p":0.012},{"d":"2001-01-26","p":0.015},{"d":"2001-01-27","p":0.012},{"d":"2001-02-04","p":0.02},{"d":"2001-02-04T06:00Z","p":0.05},{"d":"2001-02-04T12:00Z","p":0.04},{"d":"2001-02-04T18:00Z","p":0.02},{"d":"2001-02-09T18:00Z","p":0.03},{"d":"2001-02-11T12:00Z","p":0.015},{"d":"2001-02-22","p":0.02},{"d":"2001-02-22T12:00Z","p":0.04},{"d":"2001-02-23","p":0.08},{"d":"2001-02-23T12:00Z","p":0.09},{"d":"2001-02-24","p":0.07},{"d":"2001-02-24T12:00Z","p":0.04},{"d":"2001-02-25","p":0.02},{"d":"2001-02-26","p":0.015},{"d":"2001-03-02T12:00Z","p":0.025},{"d":"2001-03-03T12:00Z","p":0.03},{"d":"2001-03-04T12:00Z","p":0.1},{"d":"2001-03-05","p":0.07},{"d":"2001-03-05T12:00Z","p":0.04},{"d":"2001-03-06","p":0.02},{"d":"2001-03-06T12:00Z","p":0.02},{"d":"2001-03-07","p":0.03},{"d":"2001-03-08","p":0.05},{"d":"2001-03-09","p":0.04},{"d":"2001-03-09T12:00Z","p":0.02},{"d":"2001-03-11","p":0.02},{"d":"2001-03-12","p":0.04},{"d":"2001-03-13","p":0.07},{"d":"2001-03-13T12:00Z","p":0.11},{"d":"2001-03-14","p":0.09},{"d":"2001-03-14T12:00Z","p":0.06},{"d":"2001-03-15","p":0.04},{"d":"2001-03-15T12:00Z","p":0.02},{"d":"2001-03-16","p":0.04},{"d":"2001-03-17","p":0.05},{"d":"2001-03-18","p":0.03},{"d":"2001-03-19","p":0.02},{"d":"2001-03-20","p":0.03},{"d":"2001-03-21T12:00Z","p":0.03},{"d":"2001-03-22","p":0.06},{"d":"2001-03-23","p":0.07},{"d":"2001-03-24","p":0.05},{"d":"2001-03-25","p":0.04},{"d":"2001-03-26","p":0.055},{"d":"2001-03-27","p":0.03},{"d":"2001-03-29T12:00Z","p":0.025},{"d":"2001-03-30T12:00Z","p":0.015},{"d":"2001-03-31","p":0.012},{"d":"2001-04-04T18:00Z","p":0.01},{"d":"2001-04-05","p":0.2},{"d":"2001-04-05T03:00Z","p":0.39},{"d":"2001-04-05T06:00Z","p":0.3},{"d":"2001-04-05T09:00Z","p":0.25},{"d":"2001-04-05T12:00Z","p":0.2},{"d":"2001-04-05T15:00Z","p":0.15},{"d":"2001-04-05T18:00Z","p":0.1},{"d":"2001-04-05T21:00Z","p":0.06},{"d":"2001-04-06","p":0.06},{"d":"2001-04-07","p":0.05},{"d":"2001-04-07T12:00Z","p":0.03},{"d":"2001-04-08","p":0.06},{"d":"2001-04-08T12:00Z","p":0.04},{"d":"2001-04-09","p":0.03},{"d":"2001-04-10","p":0.05},{"d":"2001-04-10T12:00Z","p":0.03},{"d":"2001-04-11","p":0.04},{"d":"2001-04-11T12:00Z","p":0.02},{"d":"2001-04-12","p":0.02},{"d":"2001-04-20T12:00Z","p":0.015},{"d":"2001-04-21","p":0.01},{"d":"2001-04-21T12:00Z","p":0.005},{"d":"2001-04-22","p":0.008},{"d":"2001-04-22T12:00Z","p":0.01}],
"l01q":[{"d":"2001-01-01","q":1.4},{"d":"2001-01-02T12:00Z","q":3.4},{"d":"2001-01-03T12:00Z","q":3.4},{"d":"2001-01-04T18:00Z","q":1.9},{"d":"2001-01-06T22:00Z","q":5.7},{"d":"2001-01-07T06:00Z","q":12},{"d":"2001-01-08T02:00Z","q":21.2},{"d":"2001-01-08T10:00Z","q":10.4},{"d":"2001-01-09T02:00Z","q":8},{"d":"2001-01-09T18:00Z","q":7.3},{"d":"2001-01-10T14:00Z","q":4.2},{"d":"2001-01-12","q":1.9},{"d":"2001-01-16T12:00Z","q":1.4},{"d":"2001-01-20T22:00Z","q":2.6},{"d":"2001-01-23T02:00Z","q":3.4},{"d":"2001-01-24T02:00Z","q":1.9},{"d":"2001-01-26","q":2.3},{"d":"2001-01-29","q":1.4},{"d":"2001-02-03T02:00Z","q":2.3},{"d":"2001-02-03T22:00Z","q":10.4},{"d":"2001-02-04T06:00Z","q":28.7},{"d":"2001-02-04T18:00Z","q":13.2},{"d":"2001-02-05T02:00Z","q":5.7},{"d":"2001-02-06T02:00Z","q":3.4},{"d":"2001-02-09","q":2.2},{"d":"2001-02-13T10:00Z","q":1.1},{"d":"2001-02-17T22:00Z","q":2.2},{"d":"2001-02-20T18:00Z","q":2.6},{"d":"2001-02-21T12:00Z","q":1.1},{"d":"2001-02-22T14:00Z","q":5.7},{"d":"2001-02-23","q":14.3},{"d":"2001-02-23T12:00Z","q":24.3},{"d":"2001-02-23T22:00Z","q":5.7},{"d":"2001-02-24T12:00Z","q":3.4},{"d":"2001-02-26T18:00Z","q":2.6},{"d":"2001-03-01T14:00Z","q":1.9},{"d":"2001-03-03T22:00Z","q":2.6},{"d":"2001-03-04T14:00Z","q":12},{"d":"2001-03-05T06:00Z","q":29.8},{"d":"2001-03-05T18:00Z","q":5.7},{"d":"2001-03-06T18:00Z","q":4.2},{"d":"2001-03-08T06:00Z","q":2.6},{"d":"2001-03-09","q":4.2},{"d":"2001-03-09T14:00Z","q":22.8},{"d":"2001-03-10","q":5.7},{"d":"2001-03-11T22:00Z","q":4.2},{"d":"2001-03-13T02:00Z","q":15},{"d":"2001-03-13T14:00Z","q":5.7},{"d":"2001-03-14T06:00Z","q":41.4},{"d":"2001-03-14T14:00Z","q":16.6},{"d":"2001-03-15T06:00Z","q":20.5},{"d":"2001-03-15T18:00Z","q":5.7},{"d":"2001-03-17T02:00Z","q":4.2},{"d":"2001-03-18T02:00Z","q":18.9},{"d":"2001-03-18T14:00Z","q":5.7},{"d":"2001-03-20T02:00Z","q":5},{"d":"2001-03-21T02:00Z","q":29.8},{"d":"2001-03-21T12:00Z","q":31.3},{"d":"2001-03-22","q":16.6},{"d":"2001-03-22T06:00Z","q":5},{"d":"2001-03-23","q":7.3},{"d":"2001-03-23T18:00Z","q":10.4},{"d":"2001-03-24T06:00Z","q":17.4},{"d":"2001-03-24T14:00Z","q":5.7},{"d":"2001-03-25T22:00Z","q":16.6},{"d":"2001-03-26T10:00Z","q":31.3},{"d":"2001-03-26T18:00Z","q":8.9},{"d":"2001-03-28T06:00Z","q":5},{"d":"2001-03-29T14:00Z","q":15},{"d":"2001-03-30T06:00Z","q":14.3},{"d":"2001-03-30T18:00Z","q":5.7},{"d":"2001-03-31T18:00Z","q":4.2},{"d":"2001-04-03T18:00Z","q":2.6},{"d":"2001-04-04T12:00Z","q":7.3},{"d":"2001-04-05","q":43},{"d":"2001-04-05T10:00Z","q":8},{"d":"2001-04-06","q":7.3},{"d":"2001-04-06T18:00Z","q":5.7},{"d":"2001-04-07T12:00Z","q":35.2},{"d":"2001-04-07T22:00Z","q":8.9},{"d":"2001-04-08T14:00Z","q":12},{"d":"2001-04-09T02:00Z","q":27.4},{"d":"2001-04-09T12:00Z","q":8.9},{"d":"2001-04-10","q":34.4},{"d":"2001-04-10T10:00Z","q":13.6},{"d":"2001-04-11","q":35.2},{"d":"2001-04-11T10:00Z","q":8.9},{"d":"2001-04-12T14:00Z","q":5},{"d":"2001-04-14T18:00Z","q":4.2},{"d":"2001-04-15T14:00Z","q":33.6},{"d":"2001-04-16T06:00Z","q":35.2},{"d":"2001-04-16T18:00Z","q":43.6},{"d":"2001-04-17T06:00Z","q":13.6},{"d":"2001-04-17T18:00Z","q":6.5},{"d":"2001-04-18T12:00Z","q":4.2},{"d":"2001-04-19T06:00Z","q":19.7},{"d":"2001-04-19T18:00Z","q":5.7},{"d":"2001-04-20T10:00Z","q":32},{"d":"2001-04-20T22:00Z","q":10.4},{"d":"2001-04-21T12:00Z","q":31.3},{"d":"2001-04-21T22:00Z","q":13.6},{"d":"2001-04-22T12:00Z","q":38.3},{"d":"2001-04-22T22:00Z","q":13.6},{"d":"2001-04-23T18:00Z","q":5.7},{"d":"2001-04-25T02:00Z","q":3.4},{"d":"2001-04-26T14:00Z","q":4.2},{"d":"2001-04-28T02:00Z","q":2.6},{"d":"2001-05-01","q":1.9}],
"l01p":[{"d":"2001-01-01","p":0.01},{"d":"2001-01-02","p":0.01},{"d":"2001-01-03","p":0.008},{"d":"2001-01-04","p":0.01},{"d":"2001-01-05","p":0.01},{"d":"2001-01-06","p":0.015},{"d":"2001-01-07","p":0.03},{"d":"2001-01-07T12:00Z","p":0.04},{"d":"2001-01-08","p":0.025},{"d":"2001-01-08T12:00Z","p":0.015},{"d":"2001-01-09","p":0.01},{"d":"2001-01-10","p":0.008},{"d":"2001-01-11","p":0.01},{"d":"2001-01-21T12:00Z","p":0.015},{"d":"2001-01-23","p":0.01},{"d":"2001-01-24","p":0.008},{"d":"2001-01-25","p":0.01},{"d":"2001-01-26T12:00Z","p":0.008},{"d":"2001-02-03","p":0.01},{"d":"2001-02-04","p":0.025},{"d":"2001-02-04T12:00Z","p":0.03},{"d":"2001-02-05","p":0.01},{"d":"2001-02-08T12:00Z","p":0.01},{"d":"2001-02-10","p":0.012},{"d":"2001-02-17","p":0.008},{"d":"2001-02-18T12:00Z","p":0.01},{"d":"2001-02-20","p":0.01},{"d":"2001-02-22","p":0.01},{"d":"2001-02-22T12:00Z","p":0.03},{"d":"2001-02-23","p":0.06},{"d":"2001-02-23T12:00Z","p":0.07},{"d":"2001-02-24","p":0.06},{"d":"2001-02-24T12:00Z","p":0.04},{"d":"2001-02-25","p":0.02},{"d":"2001-02-26","p":0.01},{"d":"2001-03-01","p":0.01},{"d":"2001-03-02T12:00Z","p":0.012},{"d":"2001-03-03","p":0.015},{"d":"2001-03-03T12:00Z","p":0.03},{"d":"2001-03-04","p":0.07},{"d":"2001-03-04T12:00Z","p":0.09},{"d":"2001-03-05","p":0.05},{"d":"2001-03-05T12:00Z","p":0.02},{"d":"2001-03-07","p":0.015},{"d":"2001-03-08","p":0.02},{"d":"2001-03-08T12:00Z","p":0.04},{"d":"2001-03-09","p":0.09},{"d":"2001-03-09T12:00Z","p":0.06},{"d":"2001-03-10","p":0.02},{"d":"2001-03-11","p":0.02},{"d":"2001-03-12","p":0.015},{"d":"2001-03-13","p":0.03},{"d":"2001-03-13T12:00Z","p":0.08},{"d":"2001-03-14","p":0.14},{"d":"2001-03-14T06:00Z","p":0.19},{"d":"2001-03-14T12:00Z","p":0.17},{"d":"2001-03-14T18:00Z","p":0.12},{"d":"2001-03-15","p":0.07},{"d":"2001-03-15T12:00Z","p":0.04},{"d":"2001-03-16","p":0.02},{"d":"2001-03-19","p":0.01},{"d":"2001-03-20","p":0.02},{"d":"2001-03-21","p":0.04},{"d":"2001-03-21T12:00Z","p":0.05},{"d":"2001-03-22","p":0.03},{"d":"2001-03-23","p":0.02},{"d":"2001-03-24","p":0.03},{"d":"2001-03-25","p":0.04},{"d":"2001-03-26","p":0.03},{"d":"2001-03-27","p":0.02},{"d":"2001-03-29T12:00Z","p":0.015},{"d":"2001-03-30","p":0.02},{"d":"2001-03-31","p":0.01},{"d":"2001-04-03T12:00Z","p":0.02},{"d":"2001-04-04","p":0.1},{"d":"2001-04-04T06:00Z","p":0.2},{"d":"2001-04-04T12:00Z","p":0.24},{"d":"2001-04-04T18:00Z","p":0.18},{"d":"2001-04-05","p":0.12},{"d":"2001-04-05T06:00Z","p":0.08},{"d":"2001-04-05T12:00Z","p":0.04},{"d":"2001-04-05T18:00Z","p":0.02},{"d":"2001-04-06","p":0.04},{"d":"2001-04-07","p":0.035},{"d":"2001-04-08","p":0.03},{"d":"2001-04-09","p":0.035},{"d":"2001-04-10","p":0.03},{"d":"2001-04-11","p":0.02},{"d":"2001-04-12","p":0.015},{"d":"2001-04-19","p":0.008},{"d":"2001-04-19T12:00Z","p":0.02},{"d":"2001-04-20","p":0.01},{"d":"2001-04-20T18:00Z","p":0.03},{"d":"2001-04-21T06:00Z","p":0.055}]
},
"title":{"text":"Durchfluss\u00a0\u00a0(l/s)","orient":"right","anchor":"middle","fontSize":16,"offset":12},
"hconcat":[{
"title":{"text":"PO₄ - P gelöst (mg/l)","orient":"left","anchor":"middle","fontSize":16,"offset":14},
"spacing":19.5,
"vconcat":[
{"hconcat":[
{"width":273,"height":191,"title":{"text":"Burst 1998","dx":-4},
"encoding":{"x":{"field":"d","type":"temporal","scale":{"type":"utc","nice":false,"domain":[{"year":1998,"month":4,"date":1,"utc":true},{"year":1999,"month":1,"date":1,"utc":true}]},
"axis":{"title":"\u00a0","titleFontSize":1,"titlePadding":22,"labelPadding":4,"labelDx":-3,"labelOverlap":false,"labelFlush":false,"labelBound":false,"labelExpr":"utcdate(datum.value) == 1 ? ['Jan','Feb','Mrz','Apr','Mai','Jun','Jul','Aug','Sep','Okt','Nov','Dez'][utcmonth(datum.value)] : ''",
"values":[{"year":1998,"month":4,"date":1,"utc":true},{"year":1998,"month":4,"date":11,"utc":true},{"year":1998,"month":4,"date":21,"utc":true},{"year":1998,"month":5,"date":1,"utc":true},{"year":1998,"month":5,"date":11,"utc":true},{"year":1998,"month":5,"date":21,"utc":true},{"year":1998,"month":6,"date":1,"utc":true},{"year":1998,"month":6,"date":11,"utc":true},{"year":1998,"month":6,"date":21,"utc":true},{"year":1998,"month":7,"date":1,"utc":true},{"year":1998,"month":7,"date":11,"utc":true},{"year":1998,"month":7,"date":21,"utc":true},{"year":1998,"month":8,"date":1,"utc":true},{"year":1998,"month":8,"date":11,"utc":true},{"year":1998,"month":8,"date":21,"utc":true},{"year":1998,"month":9,"date":1,"utc":true},{"year":1998,"month":9,"date":11,"utc":true},{"year":1998,"month":9,"date":21,"utc":true},{"year":1998,"month":10,"date":1,"utc":true},{"year":1998,"month":10,"date":11,"utc":true},{"year":1998,"month":10,"date":21,"utc":true},{"year":1998,"month":11,"date":1,"utc":true},{"year":1998,"month":11,"date":11,"utc":true},{"year":1998,"month":11,"date":21,"utc":true},{"year":1998,"month":12,"date":1,"utc":true},{"year":1998,"month":12,"date":11,"utc":true},{"year":1998,"month":12,"date":21,"utc":true},{"year":1999,"month":1,"date":1,"utc":true}]}}},
"layer":[
{"data":{"name":"b98q"},"mark":{"type":"line","strokeWidth":1.1,"invalid":"break-paths-filter-domains"},
"encoding":{"y":{"field":"q","type":"quantitative","scale":{"domain":[-30,60],"nice":false,"zero":false},"axis":{"orient":"right","title":null,"labelPadding":7,"values":[-20,-10,0,10,20,30,40,50,60],"labelExpr":"datum.value % 20 == 0 ? (datum.value < 0 ? '-' + abs(datum.value) : '' + datum.value) : ''"}},
"color":{"datum":"Durchfluss","type":"nominal","scale":{"domain":["PO₄ - P gelöst","Durchfluss"],"range":["#8c8c8c","#1763aa"]},
"legend":{"title":null,"orient":"none","legendX":106,"legendY":28,"labelFontSize":9.5,"labelFontWeight":"bold","labelColor":"#000","symbolSize":100,"rowPadding":6,"labelOffset":11,"symbolStrokeWidth":1,
"encode":{"symbols":{"update":{"shape":{"signal":"datum.value === 'Durchfluss' ? 'M-2.1,0H2.1' : 'M-2.1,0H2.1M0.45,0A0.45,0.45,0,1,1,-0.45,0A0.45,0.45,0,1,1,0.45,0Z'"},"fill":{"value":"#000"}}}}}}}},
{"data":{"name":"b98p"},"encoding":{"y":{"field":"p","type":"quantitative","scale":{"domain":[-0.2,1.2],"nice":false,"zero":false},"axis":{"orient":"left","title":null,"labelPadding":8,"values":[0,0.2,0.4,0.6,0.8,1,1.2],"labelExpr":"replace(format(datum.value, '.1f'), '.', ',')"}}},
"layer":[{"mark":{"type":"line","strokeWidth":1},"encoding":{"color":{"datum":"PO₄ - P gelöst","type":"nominal"}}},{"mark":{"type":"point","filled":true,"color":"#000","size":14,"opacity":1}}]}
],
"resolve":{"scale":{"y":"independent"}}},
{"width":275,"height":191,"title":{"text":"Linth 1998"},
"encoding":{"x":{"field":"d","type":"temporal","scale":{"type":"utc","nice":false,"domain":[{"year":1998,"month":4,"date":1,"utc":true},{"year":1999,"month":1,"date":1,"utc":true}]},
"axis":{"title":null,"labelPadding":4,"labelDx":-3,"labelOverlap":false,"labelFlush":false,"labelBound":false,"labelExpr":"utcdate(datum.value) == 1 ? ['Jan','Feb','Mrz','Apr','Mai','Jun','Jul','Aug','Sep','Okt','Nov','Dez'][utcmonth(datum.value)] : ''",
"values":[{"year":1998,"month":4,"date":1,"utc":true},{"year":1998,"month":4,"date":11,"utc":true},{"year":1998,"month":4,"date":21,"utc":true},{"year":1998,"month":5,"date":1,"utc":true},{"year":1998,"month":5,"date":11,"utc":true},{"year":1998,"month":5,"date":21,"utc":true},{"year":1998,"month":6,"date":1,"utc":true},{"year":1998,"month":6,"date":11,"utc":true},{"year":1998,"month":6,"date":21,"utc":true},{"year":1998,"month":7,"date":1,"utc":true},{"year":1998,"month":7,"date":11,"utc":true},{"year":1998,"month":7,"date":21,"utc":true},{"year":1998,"month":8,"date":1,"utc":true},{"year":1998,"month":8,"date":11,"utc":true},{"year":1998,"month":8,"date":21,"utc":true},{"year":1998,"month":9,"date":1,"utc":true},{"year":1998,"month":9,"date":11,"utc":true},{"year":1998,"month":9,"date":21,"utc":true},{"year":1998,"month":10,"date":1,"utc":true},{"year":1998,"month":10,"date":11,"utc":true},{"year":1998,"month":10,"date":21,"utc":true},{"year":1998,"month":11,"date":1,"utc":true},{"year":1998,"month":11,"date":11,"utc":true},{"year":1998,"month":11,"date":21,"utc":true},{"year":1998,"month":12,"date":1,"utc":true},{"year":1998,"month":12,"date":11,"utc":true},{"year":1998,"month":12,"date":21,"utc":true},{"year":1999,"month":1,"date":1,"utc":true}]}}},
"layer":[
{"data":{"name":"l98q"},"mark":{"type":"line","color":"#1763aa","strokeWidth":1.1,"invalid":"break-paths-filter-domains"},
"encoding":{"y":{"field":"q","type":"quantitative","scale":{"domain":[-30,60],"nice":false,"zero":false},"axis":{"orient":"right","title":null,"labelPadding":7,"values":[-20,-10,0,10,20,30,40,50,60],"labelExpr":"datum.value % 20 == 0 ? (datum.value < 0 ? '-' + abs(datum.value) : '' + datum.value) : ''"}}}},
{"data":{"name":"l98p"},"encoding":{"y":{"field":"p","type":"quantitative","scale":{"domain":[-0.2,1.2],"nice":false,"zero":false},"axis":{"orient":"left","title":null,"labelPadding":8,"values":[0,0.2,0.4,0.6,0.8,1,1.2],"labelExpr":"replace(format(datum.value, '.1f'), '.', ',')"}}},
"layer":[{"mark":{"type":"line","color":"#8c8c8c","strokeWidth":1}},{"mark":{"type":"point","filled":true,"color":"#000","size":14,"opacity":1}}]}
],
"resolve":{"scale":{"y":"independent"}}}
],"spacing":84.5,"bounds":"flush"},
{"hconcat":[
{"width":276,"height":187,"title":{"text":"Burst 1999","dx":-8},
"encoding":{"x":{"field":"d","type":"temporal","scale":{"type":"utc","nice":false,"domain":[{"year":1999,"month":3,"date":1,"utc":true},{"year":1999,"month":7,"date":1,"utc":true}]},
"axis":{"title":null,"labelPadding":4,"labelDx":-3,"labelOverlap":false,"labelFlush":false,"labelBound":false,"labelExpr":"utcdate(datum.value) == 1 ? ['Jan','Feb','Mrz','Apr','Mai','Jun','Jul','Aug','Sep','Okt','Nov','Dez'][utcmonth(datum.value)] : ''",
"values":[{"year":1999,"month":3,"date":1,"utc":true},{"year":1999,"month":3,"date":11,"utc":true},{"year":1999,"month":3,"date":21,"utc":true},{"year":1999,"month":4,"date":1,"utc":true},{"year":1999,"month":4,"date":11,"utc":true},{"year":1999,"month":4,"date":21,"utc":true},{"year":1999,"month":5,"date":1,"utc":true},{"year":1999,"month":5,"date":11,"utc":true},{"year":1999,"month":5,"date":21,"utc":true},{"year":1999,"month":6,"date":1,"utc":true},{"year":1999,"month":6,"date":11,"utc":true},{"year":1999,"month":6,"date":21,"utc":true},{"year":1999,"month":7,"date":1,"utc":true}]}}},
"layer":[
{"data":{"name":"b99q"},"mark":{"type":"line","color":"#1763aa","strokeWidth":1.1},
"encoding":{"y":{"field":"q","type":"quantitative","scale":{"domain":[-30,60],"nice":false,"zero":false},"axis":{"orient":"right","title":null,"labelPadding":7,"values":[-20,-10,0,10,20,30,40,50,60],"labelExpr":"datum.value % 20 == 0 ? (datum.value < 0 ? '-' + abs(datum.value) : '' + datum.value) : ''"}}}},
{"data":{"name":"b99p"},"encoding":{"y":{"field":"p","type":"quantitative","scale":{"domain":[-0.2,1.2],"nice":false,"zero":false},"axis":{"orient":"left","title":null,"labelPadding":8,"values":[0,0.2,0.4,0.6,0.8,1,1.2],"labelExpr":"replace(format(datum.value, '.1f'), '.', ',')"}}},
"layer":[{"mark":{"type":"line","color":"#8c8c8c","strokeWidth":1}},{"mark":{"type":"point","filled":true,"color":"#000","size":14,"opacity":1}}]}
],
"resolve":{"scale":{"y":"independent"}}},
{"width":275,"height":191,"title":{"text":"Linth 1999"},
"encoding":{"x":{"field":"d","type":"temporal","scale":{"type":"utc","nice":false,"domain":[{"year":1999,"month":3,"date":1,"utc":true},{"year":1999,"month":7,"date":1,"utc":true}]},
"axis":{"title":null,"labelPadding":4,"labelDx":-3,"labelOverlap":false,"labelFlush":false,"labelBound":false,"labelExpr":"utcdate(datum.value) == 1 ? ['Jan','Feb','Mrz','Apr','Mai','Jun','Jul','Aug','Sep','Okt','Nov','Dez'][utcmonth(datum.value)] : ''",
"values":[{"year":1999,"month":3,"date":1,"utc":true},{"year":1999,"month":3,"date":11,"utc":true},{"year":1999,"month":3,"date":21,"utc":true},{"year":1999,"month":4,"date":1,"utc":true},{"year":1999,"month":4,"date":11,"utc":true},{"year":1999,"month":4,"date":21,"utc":true},{"year":1999,"month":5,"date":1,"utc":true},{"year":1999,"month":5,"date":11,"utc":true},{"year":1999,"month":5,"date":21,"utc":true},{"year":1999,"month":6,"date":1,"utc":true},{"year":1999,"month":6,"date":11,"utc":true},{"year":1999,"month":6,"date":21,"utc":true},{"year":1999,"month":7,"date":1,"utc":true}]}}},
"layer":[
{"data":{"name":"l99q"},"mark":{"type":"line","color":"#1763aa","strokeWidth":1.1},
"encoding":{"y":{"field":"q","type":"quantitative","scale":{"domain":[-30,60],"nice":false,"zero":false},"axis":{"orient":"right","title":null,"labelPadding":7,"values":[-20,-10,0,10,20,30,40,50,60],"labelExpr":"datum.value % 20 == 0 ? (datum.value < 0 ? '-' + abs(datum.value) : '' + datum.value) : ''"}}}},
{"data":{"name":"l99p"},"encoding":{"y":{"field":"p","type":"quantitative","scale":{"domain":[-0.2,1.2],"nice":false,"zero":false},"axis":{"orient":"left","title":null,"labelPadding":8,"values":[0,0.2,0.4,0.6,0.8,1,1.2],"labelExpr":"replace(format(datum.value, '.1f'), '.', ',')"}}},
"layer":[{"mark":{"type":"line","color":"#8c8c8c","strokeWidth":1}},{"mark":{"type":"point","filled":true,"color":"#000","size":14,"opacity":1}}]}
],
"resolve":{"scale":{"y":"independent"}}}
],"spacing":81.5,"bounds":"flush"},
{"hconcat":[
{"width":276,"height":192,"title":{"text":"Burst\u00a0\u00a0\u00a02000"},
"encoding":{"x":{"field":"d","type":"temporal","scale":{"type":"utc","nice":false,"domain":[{"year":2000,"month":9,"date":1,"utc":true},{"year":2001,"month":1,"date":1,"utc":true}]},
"axis":{"title":"\u00a0","titleFontSize":1,"titlePadding":10.7,"labelPadding":4,"labelDx":-3,"labelOverlap":false,"labelFlush":false,"labelBound":false,"labelExpr":"utcdate(datum.value) == 1 ? ['Jan','Feb','Mrz','Apr','Mai','Jun','Jul','Aug','Sep','Okt','Nov','Dez'][utcmonth(datum.value)] : ''",
"values":[{"year":2000,"month":9,"date":1,"utc":true},{"year":2000,"month":9,"date":11,"utc":true},{"year":2000,"month":9,"date":21,"utc":true},{"year":2000,"month":10,"date":1,"utc":true},{"year":2000,"month":10,"date":11,"utc":true},{"year":2000,"month":10,"date":21,"utc":true},{"year":2000,"month":11,"date":1,"utc":true},{"year":2000,"month":11,"date":11,"utc":true},{"year":2000,"month":11,"date":21,"utc":true},{"year":2000,"month":12,"date":1,"utc":true},{"year":2000,"month":12,"date":11,"utc":true},{"year":2000,"month":12,"date":21,"utc":true},{"year":2001,"month":1,"date":1,"utc":true}]}}},
"layer":[
{"data":{"name":"b00q"},"mark":{"type":"line","color":"#1763aa","strokeWidth":1.1},
"encoding":{"y":{"field":"q","type":"quantitative","scale":{"domain":[-30,60],"nice":false,"zero":false},"axis":{"orient":"right","title":null,"labelPadding":7,"values":[-20,-10,0,10,20,30,40,50,60],"labelExpr":"datum.value % 20 == 0 ? (datum.value < 0 ? '-' + abs(datum.value) : '' + datum.value) : ''"}}}},
{"data":{"name":"b00p"},"encoding":{"y":{"field":"p","type":"quantitative","scale":{"domain":[-0.2,1.2],"nice":false,"zero":false},"axis":{"orient":"left","title":null,"labelPadding":8,"values":[0,0.2,0.4,0.6,0.8,1,1.2],"labelExpr":"replace(format(datum.value, '.1f'), '.', ',')"}}},
"layer":[{"mark":{"type":"line","color":"#8c8c8c","strokeWidth":1}},{"mark":{"type":"point","filled":true,"color":"#000","size":14,"opacity":1}}]}
],
"resolve":{"scale":{"y":"independent"}}},
{"width":272.5,"height":192,"title":{"text":"Linth 2000"},
"encoding":{"x":{"field":"d","type":"temporal","scale":{"type":"utc","nice":false,"domain":[{"year":2000,"month":9,"date":1,"utc":true},{"year":2001,"month":1,"date":1,"utc":true}]},
"axis":{"title":null,"labelPadding":4,"labelDx":-3,"labelOverlap":false,"labelFlush":false,"labelBound":false,"labelExpr":"utcdate(datum.value) == 1 ? ['Jan','Feb','Mrz','Apr','Mai','Jun','Jul','Aug','Sep','Okt','Nov','Dez'][utcmonth(datum.value)] : ''",
"values":[{"year":2000,"month":9,"date":1,"utc":true},{"year":2000,"month":9,"date":11,"utc":true},{"year":2000,"month":9,"date":21,"utc":true},{"year":2000,"month":10,"date":1,"utc":true},{"year":2000,"month":10,"date":11,"utc":true},{"year":2000,"month":10,"date":21,"utc":true},{"year":2000,"month":11,"date":1,"utc":true},{"year":2000,"month":11,"date":11,"utc":true},{"year":2000,"month":11,"date":21,"utc":true},{"year":2000,"month":12,"date":1,"utc":true},{"year":2000,"month":12,"date":11,"utc":true},{"year":2000,"month":12,"date":21,"utc":true},{"year":2001,"month":1,"date":1,"utc":true}]}}},
"layer":[
{"data":{"name":"l00q"},"mark":{"type":"line","color":"#1763aa","strokeWidth":1.1},
"encoding":{"y":{"field":"q","type":"quantitative","scale":{"domain":[-30,60],"nice":false,"zero":false},"axis":{"orient":"right","title":null,"labelPadding":7,"values":[-20,-10,0,10,20,30,40,50,60],"labelExpr":"datum.value % 20 == 0 ? (datum.value < 0 ? '-' + abs(datum.value) : '' + datum.value) : ''"}}}},
{"data":{"name":"l00p"},"encoding":{"y":{"field":"p","type":"quantitative","scale":{"domain":[-0.2,1.2],"nice":false,"zero":false},"axis":{"orient":"left","title":null,"labelPadding":8,"values":[0,0.2,0.4,0.6,0.8,1,1.2],"labelExpr":"replace(format(datum.value, '.1f'), '.', ',')"}}},
"layer":[{"mark":{"type":"line","color":"#8c8c8c","strokeWidth":1}},{"mark":{"type":"point","filled":true,"color":"#000","size":14,"opacity":1}}]}
],
"resolve":{"scale":{"y":"independent"}}}
],"spacing":82,"bounds":"flush"},
{"hconcat":[
{"width":270,"height":190,"title":{"text":"Burst\u00a0\u00a0\u00a02001","dx":-6},
"encoding":{"x":{"field":"d","type":"temporal","scale":{"type":"utc","nice":false,"domain":[{"year":2001,"month":1,"date":1,"utc":true},{"year":2001,"month":5,"date":1,"utc":true}]},
"axis":{"title":null,"labelPadding":4,"labelDx":-3,"labelOverlap":false,"labelFlush":false,"labelBound":false,"labelExpr":"utcdate(datum.value) == 1 ? ['Jan','Feb','Mrz','Apr','Mai','Jun','Jul','Aug','Sep','Okt','Nov','Dez'][utcmonth(datum.value)] : ''",
"values":[{"year":2001,"month":1,"date":1,"utc":true},{"year":2001,"month":1,"date":11,"utc":true},{"year":2001,"month":1,"date":21,"utc":true},{"year":2001,"month":2,"date":1,"utc":true},{"year":2001,"month":2,"date":11,"utc":true},{"year":2001,"month":2,"date":21,"utc":true},{"year":2001,"month":3,"date":1,"utc":true},{"year":2001,"month":3,"date":11,"utc":true},{"year":2001,"month":3,"date":21,"utc":true},{"year":2001,"month":4,"date":1,"utc":true},{"year":2001,"month":4,"date":11,"utc":true},{"year":2001,"month":4,"date":21,"utc":true},{"year":2001,"month":5,"date":1,"utc":true}]}}},
"layer":[
{"data":{"name":"b01q"},"mark":{"type":"line","color":"#1763aa","strokeWidth":1.1},
"encoding":{"y":{"field":"q","type":"quantitative","scale":{"domain":[-30,60],"nice":false,"zero":false},"axis":{"orient":"right","title":null,"labelPadding":7,"values":[-20,-10,0,10,20,30,40,50,60],"labelExpr":"datum.value % 20 == 0 ? (datum.value < 0 ? '-' + abs(datum.value) : '' + datum.value) : ''"}}}},
{"data":{"name":"b01p"},"encoding":{"y":{"field":"p","type":"quantitative","scale":{"domain":[-0.2,1.2],"nice":false,"zero":false},"axis":{"orient":"left","title":null,"labelPadding":8,"values":[0,0.2,0.4,0.6,0.8,1,1.2],"labelExpr":"replace(format(datum.value, '.1f'), '.', ',')"}}},
"layer":[{"mark":{"type":"line","color":"#8c8c8c","strokeWidth":1}},{"mark":{"type":"point","filled":true,"color":"#000","size":14,"opacity":1}}]}
],
"resolve":{"scale":{"y":"independent"}}},
{"width":272,"height":190,"title":{"text":"Linth 2001"},
"encoding":{"x":{"field":"d","type":"temporal","scale":{"type":"utc","nice":false,"domain":[{"year":2001,"month":1,"date":1,"utc":true},{"year":2001,"month":5,"date":1,"utc":true}]},
"axis":{"title":null,"labelPadding":4,"labelDx":-3,"labelOverlap":false,"labelFlush":false,"labelBound":false,"labelExpr":"utcdate(datum.value) == 1 ? ['Jan','Feb','Mrz','Apr','Mai','Jun','Jul','Aug','Sep','Okt','Nov','Dez'][utcmonth(datum.value)] : ''",
"values":[{"year":2001,"month":1,"date":1,"utc":true},{"year":2001,"month":1,"date":11,"utc":true},{"year":2001,"month":1,"date":21,"utc":true},{"year":2001,"month":2,"date":1,"utc":true},{"year":2001,"month":2,"date":11,"utc":true},{"year":2001,"month":2,"date":21,"utc":true},{"year":2001,"month":3,"date":1,"utc":true},{"year":2001,"month":3,"date":11,"utc":true},{"year":2001,"month":3,"date":21,"utc":true},{"year":2001,"month":4,"date":1,"utc":true},{"year":2001,"month":4,"date":11,"utc":true},{"year":2001,"month":4,"date":21,"utc":true},{"year":2001,"month":5,"date":1,"utc":true}]}}},
"layer":[
{"data":{"name":"l01q"},"mark":{"type":"line","color":"#1763aa","strokeWidth":1.1},
"encoding":{"y":{"field":"q","type":"quantitative","scale":{"domain":[-30,60],"nice":false,"zero":false},"axis":{"orient":"right","title":null,"labelPadding":7,"values":[-20,-10,0,10,20,30,40,50,60],"labelExpr":"datum.value % 20 == 0 ? (datum.value < 0 ? '-' + abs(datum.value) : '' + datum.value) : ''"}}}},
{"data":{"name":"l01p"},"encoding":{"y":{"field":"p","type":"quantitative","scale":{"domain":[-0.2,1.2],"nice":false,"zero":false},"axis":{"orient":"left","title":null,"labelPadding":8,"values":[0,0.2,0.4,0.6,0.8,1,1.2],"labelExpr":"replace(format(datum.value, '.1f'), '.', ',')"}}},
"layer":[{"mark":{"type":"line","color":"#333333","strokeWidth":1}},{"mark":{"type":"point","filled":true,"color":"#000","size":14,"opacity":1}}]}
],
"resolve":{"scale":{"y":"independent"}}}
],"spacing":88,"bounds":"flush"}
]}]
}
